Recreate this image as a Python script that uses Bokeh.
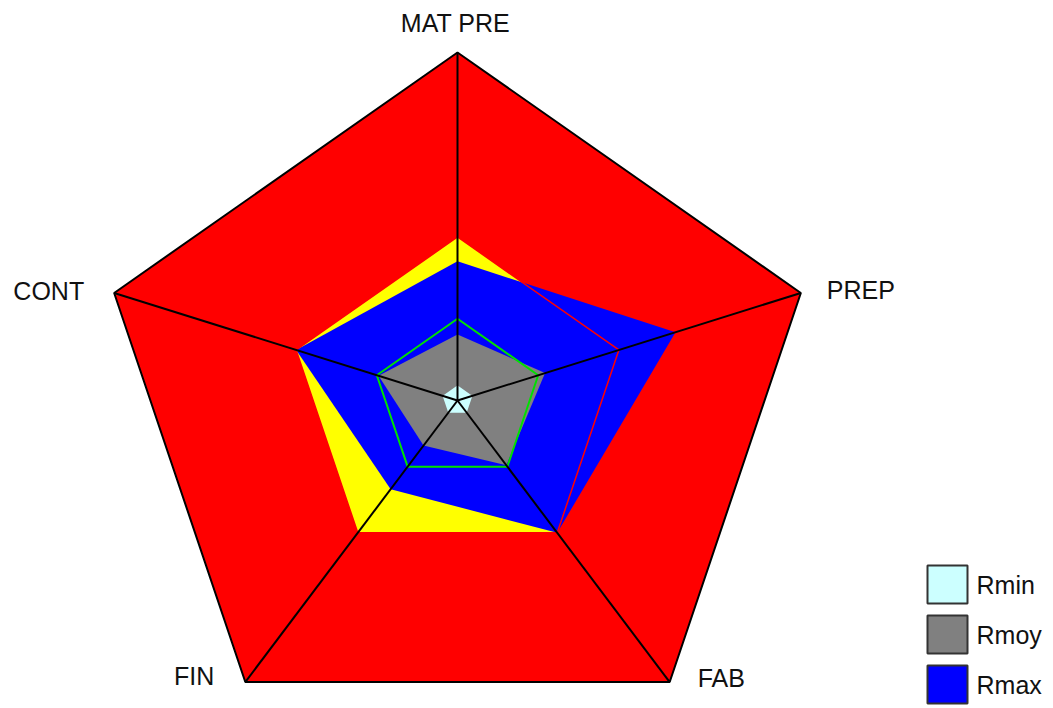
import math
from bokeh.plotting import figure
from bokeh.models import Range1d
from bokeh.core.properties import value
from bokeh.embed import file_html
from bokeh.resources import INLINE

# ---------------- data ----------------
categories = ["MAT PRE", "PREP", "FAB", "FIN", "CONT"]
echelle = [1.0, 1.0, 1.0, 1.0, 1.0]            # outer red zone
seuil_haut = [0.47, 0.47, 0.47, 0.47, 0.47]    # yellow zone / red outline
seuil_bas = [0.235, 0.235, 0.235, 0.235, 0.235]  # green outline
rmax = [0.40, 0.635, 0.47, 0.315, 0.47]
rmoy = [0.19, 0.255, 0.23, 0.16, 0.23]
rmin = [0.04, 0.04, 0.04, 0.04, 0.04]
legend_labels = ["Rmin", "Rmoy", "Rmax"]
legend_colors = ["#ccffff", "#808080", "#0000ff"]

# ---------------- layout ----------------
W, H = 1045, 705
OX, OY = 0, 0            # screen position of the figure's top-left corner
CX, CY = 457, 400        # screen position of the centre
RX, RY = 361, 348        # screen pixels per unit radius

def sx(px):
    return (px - CX) / RX

def sy(py):
    return (CY - py) / RY

angles = [math.radians(90 - 72 * k) for k in range(len(categories))]

def poly(vals):
    xs = [v * math.cos(a) for v, a in zip(vals, angles)]
    ys = [v * math.sin(a) for v, a in zip(vals, angles)]
    return xs, ys

p = figure(width=W, height=H, output_backend="svg", toolbar_location=None,
           x_range=Range1d(sx(OX), sx(OX + W)), y_range=Range1d(sy(OY + H), sy(OY)),
           min_border=0, outline_line_color=None)
p.axis.visible = False
p.grid.visible = False
p.background_fill_color = "white"
p.border_fill_color = "white"

xs, ys = poly(echelle)
p.patch(xs, ys, fill_color="#ff0000", line_color=None)

xs, ys = poly(seuil_haut)
p.patch(xs, ys, fill_color="#ffff00", line_color=None)

xs, ys = poly(rmax)
p.patch(xs, ys, fill_color="#0000ff", line_color=None)

xs, ys = poly(seuil_haut)
p.patch(xs, ys, fill_color=None, line_color="#ff0000", line_width=1.5)

xs, ys = poly(rmoy)
p.patch(xs, ys, fill_color="#808080", line_color=None)

xs, ys = poly(seuil_bas)
p.patch(xs, ys, fill_color=None, line_color="#00e000", line_width=2)

xs, ys = poly(rmin)
p.patch(xs, ys, fill_color="#ccffff", line_color="#ccffff", line_width=2)

# outer outline and spokes
xs, ys = poly(echelle)
p.patch(xs, ys, fill_color=None, line_color="black", line_width=2)
p.segment(x0=[0] * len(xs), y0=[0] * len(ys), x1=xs, y1=ys,
          line_color="black", line_width=2)

# axis labels
offsets = [(-2, -30, "center"), (26, -2.5, "left"), (28, -4.5, "left"),
           (-31, -6.5, "right"), (-30, -2, "right")]
for cat, x, y, (dx, dy, al) in zip(categories, xs, ys, offsets):
    p.text(x=[x + dx / RX], y=[y - dy / RY], text=[cat], text_align=al,
           text_baseline="middle", text_font=value("Liberation Sans"),
           text_font_size="25px", text_color="#111111")

# legend (drawn manually)
for i, (lab, col) in enumerate(zip(legend_labels, legend_colors)):
    top = 565 + 50 * i
    p.quad(left=[sx(927)], right=[sx(967)], top=[sy(top)], bottom=[sy(top + 38)],
           fill_color=col, line_color="#333333", line_width=2)
    p.text(x=[sx(976)], y=[sy(top + 19)], text=[lab], text_align="left",
           text_baseline="middle", text_font=value("Liberation Sans"),
           text_font_size="25px", text_color="#111111")

open("out.html", "w").write(file_html(p, INLINE))
